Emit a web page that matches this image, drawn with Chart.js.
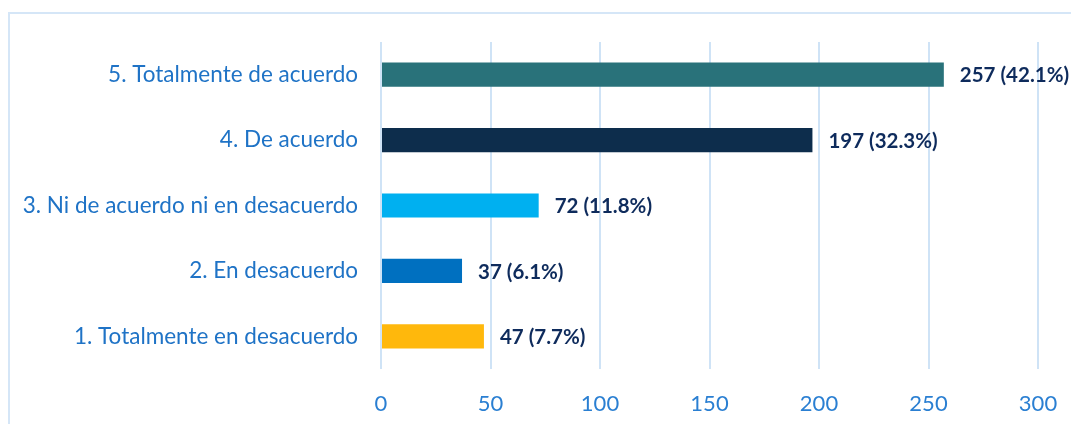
<!DOCTYPE html>
<html>
<head>
<meta charset="utf-8">
<script src="https://cdn.jsdelivr.net/npm/chart.js@4/dist/chart.umd.min.js"></script>
<style>
  html,body{margin:0;padding:0;background:#fff;overflow:hidden}
  #wrap{position:relative;width:1071px;height:424px}
  #frame{position:absolute;left:8px;top:12px;width:1100px;height:460px;border:2px solid #D5E6F7;box-sizing:border-box}
  canvas{position:absolute;left:0;top:0}
</style>
</head>
<body>
<div id="wrap">
  <div id="frame"></div>
  <canvas id="chart" width="1071" height="424"></canvas>
</div>
<script>
// data
const categories = ['5. Totalmente de acuerdo','4. De acuerdo','3. Ni de acuerdo ni en desacuerdo','2. En desacuerdo','1. Totalmente en desacuerdo'];
const counts = [257,197,72,37,47];
const percents = ['42.1%','32.3%','11.8%','6.1%','7.7%'];
const barColors = ['#29727A','#0D2D4C','#00B0F0','#0070C0','#FFB80C'];
const xTicks = [0,50,100,150,200,250,300];

const FONT = 'Lato, "Open Sans", sans-serif';

// value labels at the end of each bar
const endLabels = {
  id:'endLabels',
  afterDatasetsDraw(chart){
    const ctx = chart.ctx;
    const meta = chart.getDatasetMeta(0);
    ctx.save();
    ctx.font = 'bold 20.5px ' + FONT;
    ctx.fillStyle = '#0E2B5C';
    ctx.textBaseline = 'middle';
    ctx.textAlign = 'left';
    meta.data.forEach((bar,i)=>{
      ctx.fillText(counts[i] + ' (' + percents[i] + ')', bar.x + 16, bar.y + 1);
    });
    ctx.restore();
  }
};

new Chart(document.getElementById('chart').getContext('2d'),{
  type:'bar',
  data:{labels:categories,datasets:[{data:counts,backgroundColor:barColors,borderWidth:0,barPercentage:0.37,categoryPercentage:1}]},
  options:{
    indexAxis:'y',
    responsive:false,
    animation:false,
    layout:{padding:{left:0,right:33,top:42,bottom:0}},
    plugins:{legend:{display:false},tooltip:{enabled:false}},
    scales:{
      x:{
        min:0,max:300,
        afterBuildTicks(s){s.ticks = xTicks.map(v=>({value:v}));},
        afterFit(s){s.height = 55; s.paddingLeft = 0; s.paddingRight = 0;},
        grid:{color:'#CFE3F6',lineWidth:2,drawTicks:false},
        border:{display:false},
        ticks:{color:'#2A7FD2',padding:22,font:{family:FONT,size:22}}
      },
      y:{
        grid:{display:false,drawTicks:false},
        border:{display:false},
        afterFit(s){s.width = 381;},
        ticks:{color:'#1F73C6',padding:23,font:{family:FONT,size:22.5}}
      }
    }
  },
  plugins:[endLabels]
});
</script>
</body>
</html>
